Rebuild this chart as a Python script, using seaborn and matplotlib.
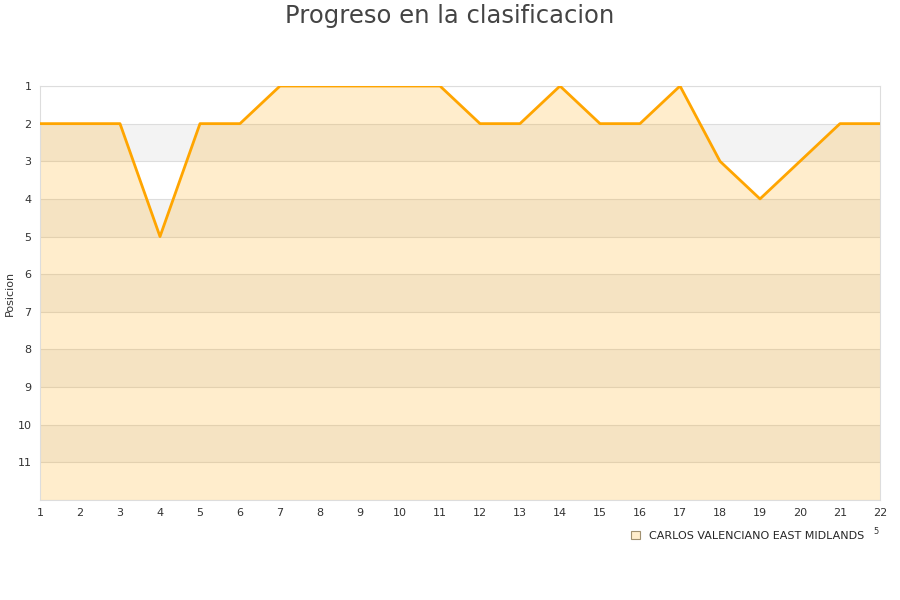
import matplotlib
matplotlib.use("Agg")
import matplotlib.pyplot as plt
import seaborn as sns
import pandas as pd
from matplotlib.patches import Patch

jornadas = list(range(1, 23))
posiciones = [2, 2, 2, 5, 2, 2, 1, 1, 1, 1, 1, 2, 2, 1, 2, 2, 1, 3, 4, 3, 2, 2]
equipo = "CARLOS VALENCIANO EAST MIDLANDS"
titulo = "Progreso en la clasificacion"
ylabel = "Posicion"
y_ticks = list(range(1, 12))

sns.set_style("white")
plt.rcParams['font.family'] = ['DejaVu Sans']

df = pd.DataFrame({"Jornada": jornadas, "Posicion": posiciones})

fig = plt.figure(figsize=(9, 6), dpi=100)
ax = fig.add_axes([40/900, 1-500/600, 840/900, 414/600])

# alternating background bands
for i in range(1, 12):
    if i % 2 == 0:
        ax.axhspan(i, i+1, color="#f3f3f3", zorder=0, lw=0)
for i in range(1, 13):
    ax.axhline(i, color="#dddddd", lw=0.8, zorder=1)

ax.fill_between(df["Jornada"], df["Posicion"], 12, color="#ffa500", alpha=0.2, lw=0, zorder=2)
sns.lineplot(data=df, x="Jornada", y="Posicion", ax=ax, color="#ffa500", lw=2, zorder=3)

ax.set_xlim(1, 22)
ax.set_ylim(12, 1)
ax.set_xticks(jornadas)
ax.set_yticks(y_ticks)
ax.tick_params(axis="both", labelsize=8, labelcolor="#333333", length=0, pad=6)
ax.set_xlabel("")
ax.set_ylabel(ylabel, fontsize=8, color="#333333")
ax.yaxis.set_label_coords(-25/840, 0.5)
for s in ax.spines.values():
    s.set_color("#dddddd")
    s.set_linewidth(0.8)

fig.text(0.5, 1-16/600, titulo, ha="center", va="center", fontsize=17.5, color="#444444")

handle = Patch(facecolor="#ffedcc", edgecolor="#a09070", lw=0.8)
fig.legend([handle], [equipo], loc="center", bbox_to_anchor=(748/900, 1-536/600),
           frameon=False, fontsize=8, handlelength=0.8, handleheight=0.8, handletextpad=0.8)
fig.text(876/900, 1-532/600, "5", fontsize=6, color="#333333", ha="center", va="center")

fig.savefig("out.png", dpi=100)
